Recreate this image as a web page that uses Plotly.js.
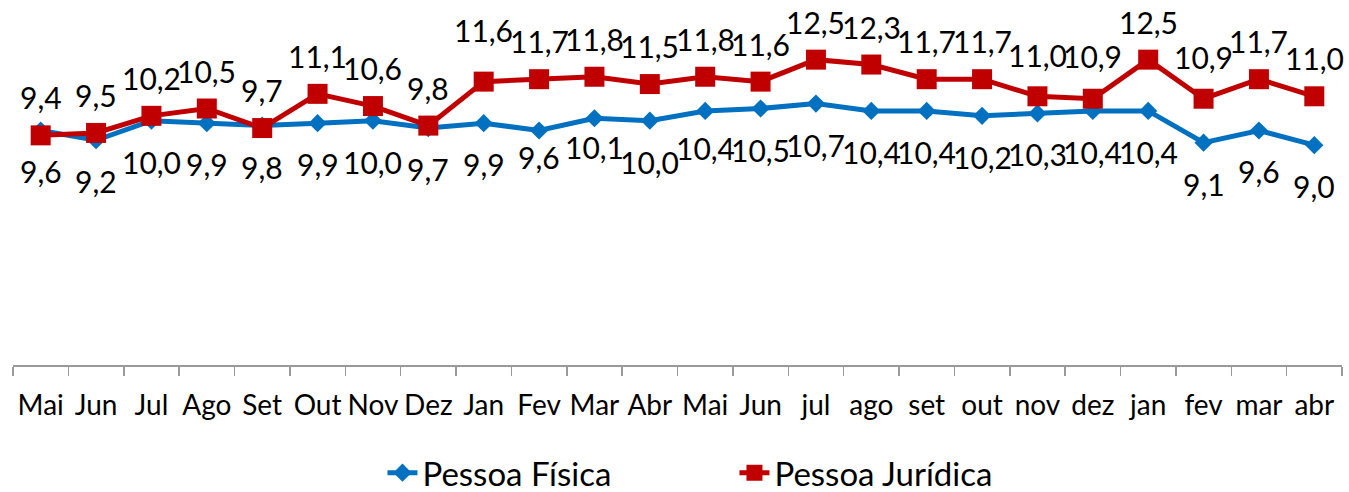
<!DOCTYPE html>
<html>
<head>
<meta charset="utf-8">
<script src="https://cdn.plot.ly/plotly-3.0.1.min.js"></script>
<style>html,body{margin:0;padding:0;background:#fff;}#chart{width:1349px;height:492px;}</style>
</head>
<body>
<div id="chart"></div>
<script>
const months = ["Mai","Jun","Jul","Ago","Set","Out","Nov","Dez","Jan","Fev","Mar","Abr",
                "Mai ","Jun ","jul","ago","set","out","nov","dez","jan","fev","mar","abr"];
const tickLabels = ["Mai","Jun","Jul","Ago","Set","Out","Nov","Dez","Jan","Fev","Mar","Abr",
                    "Mai","Jun","jul","ago","set","out","nov","dez","jan","fev","mar","abr"];
const pessoaFisica = [9.6,9.2,10.0,9.9,9.8,9.9,10.0,9.7,9.9,9.6,10.1,10.0,
                      10.4,10.5,10.7,10.4,10.4,10.2,10.3,10.4,10.4,9.1,9.6,9.0];
const pessoaJuridica = [9.4,9.5,10.2,10.5,9.7,11.1,10.6,9.8,11.6,11.7,11.8,11.5,
                        11.8,11.6,12.5,12.3,11.7,11.7,11.0,10.9,12.5,10.9,11.7,11.0];

// small manual label nudges (px, upward), as in the original chart
const nudgeJuridica = {8: 14, 18: 3, 19: 5, 21: 4};
const nudgeFisica = {9: 14, 10: 12, 12: 4};

const FONT = "Lato, 'Open Sans', sans-serif";
const BLUE = "#0070C0", RED = "#C00000";
const fmt = v => v.toFixed(1).replace(".", ",");

const traces = [
  {x: months, y: pessoaFisica, name: "Pessoa Física", type: "scatter", mode: "lines+markers",
   line: {color: BLUE, width: 5}, marker: {symbol: "diamond", size: 14, color: BLUE},
   hoverinfo: "skip"},
  {x: months, y: pessoaJuridica, name: "Pessoa Jurídica", type: "scatter", mode: "lines+markers",
   line: {color: RED, width: 5}, marker: {symbol: "square", size: 20, color: RED},
   hoverinfo: "skip"}
];

const annotations = [];
months.forEach((m, i) => {
  annotations.push({x: m, y: pessoaJuridica[i], text: fmt(pessoaJuridica[i]), showarrow: false,
    xanchor: "center", yanchor: "middle", yshift: 38 + (nudgeJuridica[i] || 0),
    font: {family: FONT, size: 30, color: "#000"}});
  annotations.push({x: m, y: pessoaFisica[i], text: fmt(pessoaFisica[i]), showarrow: false,
    xanchor: "center", yanchor: "middle", yshift: -41 + (nudgeFisica[i] || 0),
    font: {family: FONT, size: 30, color: "#000"}});
});

const layout = {
  width: 1349, height: 492,
  margin: {l: 13, r: 7, t: 23, b: 127, autoexpand: false},
  paper_bgcolor: "#fff", plot_bgcolor: "#fff",
  font: {family: FONT, color: "#000"},
  showlegend: true,
  legend: {orientation: "h", x: 0.278, xanchor: "left", y: -0.315, yanchor: "middle",
           font: {family: FONT, size: 33, color: "#000"}, entrywidth: 307, traceorder: "normal"},
  xaxis: {type: "category", tickvals: months, ticktext: tickLabels, range: [-0.5, 23.5],
          autorange: false, tickangle: 0,
          showline: true, linecolor: "#9a9a9a", linewidth: 1.5,
          ticks: "outside", tickson: "boundaries", ticklen: 9, tickcolor: "#9a9a9a", tickwidth: 1.5,
          showgrid: false, zeroline: false, fixedrange: true,
          ticklabelstandoff: 15,
          tickfont: {family: FONT, size: 28, color: "#000"}},
  yaxis: {range: [0, 14], autorange: false, visible: false, showgrid: false, zeroline: false, fixedrange: true},
  annotations: annotations
};

Plotly.newPlot("chart", traces, layout, {displayModeBar: false, staticPlot: true});
</script>
</body>
</html>
